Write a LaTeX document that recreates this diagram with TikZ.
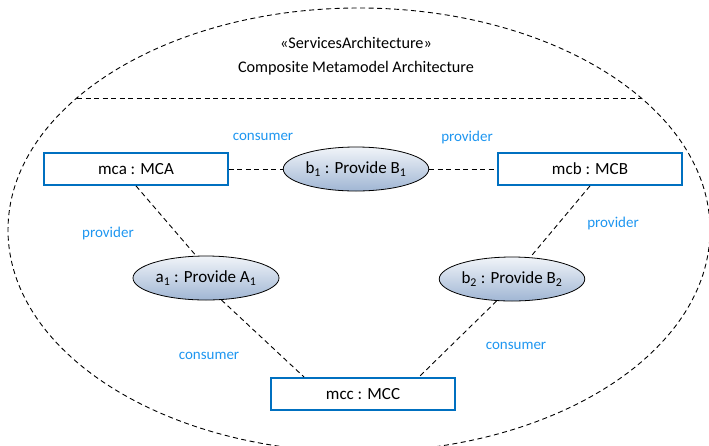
\documentclass[tikz,border=0pt]{standalone}
\usepackage{fontspec}
\setmainfont{Carlito}
\usepackage{tikz}
\usepackage{xcolor}
\usetikzlibrary{shapes.geometric}

\definecolor{partblue}{RGB}{0,112,192}
\definecolor{rolblue}{RGB}{30,150,240}
\definecolor{useshade}{RGB}{160,182,212}

\begin{document}
\begin{tikzpicture}[x=1pt, y=-1pt,
  part/.style={draw=partblue, line width=1.8pt, fill=white, rectangle, minimum width=184pt, minimum height=32pt, inner sep=0pt, font=\fontsize{17}{20}\selectfont},
  usecase/.style={draw=black, line width=0.8pt, ellipse, top color=white!85!useshade, bottom color=useshade, minimum height=44pt, inner sep=1pt, font=\fontsize{17}{20}\selectfont},
  role/.style={text=rolblue, font=\fontsize{15}{18}\selectfont},
  link/.style={dash pattern=on 5pt off 3.5pt, line width=0.9pt}]
\useasboundingbox (0,0) rectangle (709,445);
\clip (0,0) rectangle (709,445);

% collaboration frame
\draw[link] (359,230) ellipse (351 and 222);
\draw[link] (77,98) -- (641,98);
\node (title) [align=center, font=\fontsize{16.2}{24}\selectfont] at (356,56) {«ServicesArchitecture»\\Composite Metamodel Architecture};

% parts
\node (mca) [part] at (136,169) {mca : MCA};
\node (mcb) [part] at (590,169) {mcb : MCB};
\node (mcc) [part] at (363,394) {mcc : MCC};

% service contracts
\node (b1) [usecase, minimum width=124pt] at (356,169) {b\textsubscript{1} : Provide B\textsubscript{1}};
\node (a1) [usecase, minimum width=146pt] at (206,278) {a\textsubscript{1} : Provide A\textsubscript{1}};
\node (b2) [usecase, minimum width=144pt] at (512,279) {b\textsubscript{2} : Provide B\textsubscript{2}};

% roles
\node (r1) [role] at (263,137) {consumer};
\node (r2) [role] at (467,137) {provider};
\node (r3) [role] at (108,233) {provider};
\node (r4) [role] at (613,223) {provider};
\node (r5) [role] at (209,356) {consumer};
\node (r6) [role] at (516,346) {consumer};

\draw[link] (mca) -- (b1);
\draw[link] (b1) -- (mcb);
\draw[link] (mca.south) -- (a1.114);
\draw[link] (a1.-55) -- ([xshift=34pt]mcc.north west);
\draw[link] (mcb.south) -- (b2.50);
\draw[link] (b2.-125) -- ([xshift=-37pt]mcc.north east);
\end{tikzpicture}
\end{document}
